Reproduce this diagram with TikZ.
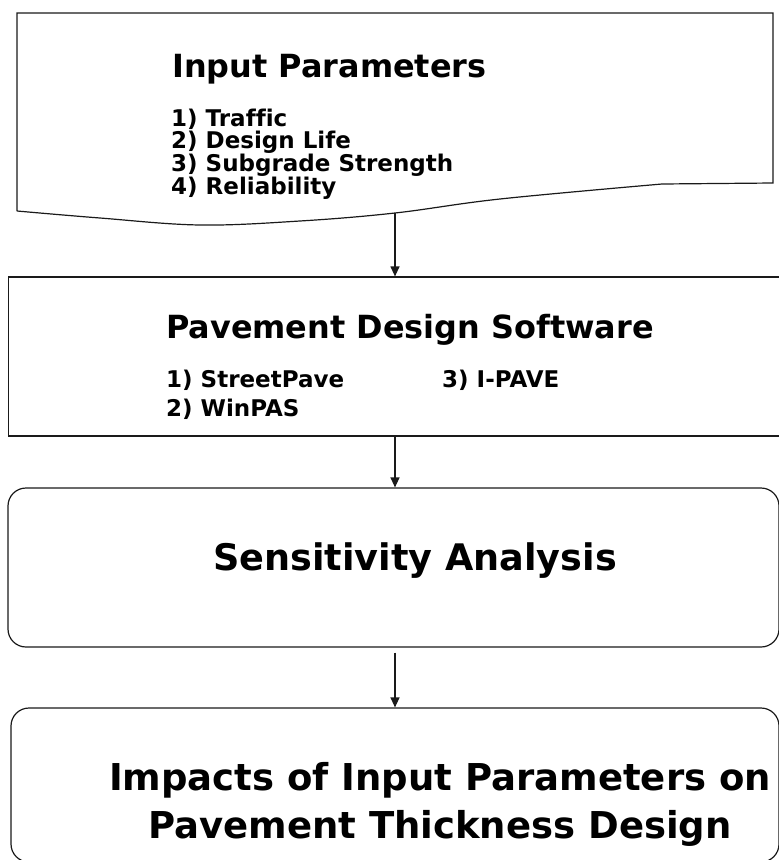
\documentclass[tikz,border=0pt]{standalone}
\usepackage{fontspec}
\setmainfont{DejaVu Sans}[Ligatures=NoCommon]
\usepackage{xcolor}
\usetikzlibrary{arrows.meta}
\definecolor{ink}{HTML}{1A1A1A}

\begin{document}
\begin{tikzpicture}[x=1pt,y=-1pt,
  ttl/.style={font=\fontsize{31.9}{38}\selectfont\bfseries,inner sep=0pt,anchor=base west},
  itm/.style={font=\fontsize{23}{27}\selectfont\bfseries,inner sep=0pt,anchor=base west},
  big/.style={font=\fontsize{37}{45}\selectfont\bfseries,inner sep=0pt,anchor=base},
  blk/.style={draw=ink,line width=1.2pt,fill=white,inner sep=0pt},
  rnd/.style={blk,rounded corners=18pt},
  lnk/.style={-{Triangle[length=10pt,width=9pt]},ink,line width=1.2pt}
]
\useasboundingbox (0,0) rectangle (779,860);
% input parameters, document shape
\draw[ink,line width=1.2pt,fill=white] (17,211) -- (17,13) -- (773,13) -- (773,183) -- (662,184)
  plot[smooth,tension=0.6] coordinates {(662,184) (500,199) (395,213) (300,221) (200,225) (100,218) (17,211)};
\coordinate (inpbot) at (395,213);
\node[ttl] (inp) at (172,77) {Input Parameters};
\foreach \t [count=\i] in {Traffic,Design Life,Subgrade Strength,Reliability}
  \node[itm] (inp\i) at (171,{126+(\i-1)*22.7}) {\i) \t};

% software
\node[blk,minimum width=773.5pt,minimum height=159pt] (sw) at (395.25,356.5) {};
\node[ttl] (swttl) at (166,338) {Pavement Design Software};
\node[itm] (sw1) at (166,387) {1) StreetPave};
\node[itm] (sw2) at (166,416) {2) WinPAS};
\node[itm] (sw3) at (442,387) {3) I-PAVE};

% analysis and result
\node[rnd,minimum width=771pt,minimum height=159pt] (sa) at (393.5,567.5) {};
\node[big,font=\fontsize{36.6}{45}\selectfont\bfseries] (satxt) at (415,570) {Sensitivity Analysis};
\node[rnd,minimum width=768pt,minimum height=154pt] (imp) at (395,785) {};
\node[big] (imp1) at (440,790) {Impacts of Input Parameters on};
\node[big] (imp2) at (440,838) {Pavement Thickness Design};

\draw[lnk] (inpbot) -- (inpbot|-sw.north);
\draw[lnk] (inpbot|-sw.south) -- (inpbot|-sa.north);
\draw[lnk,shorten <=5pt] (inpbot|-sa.south) -- (inpbot|-imp.north);
\end{tikzpicture}
\end{document}
